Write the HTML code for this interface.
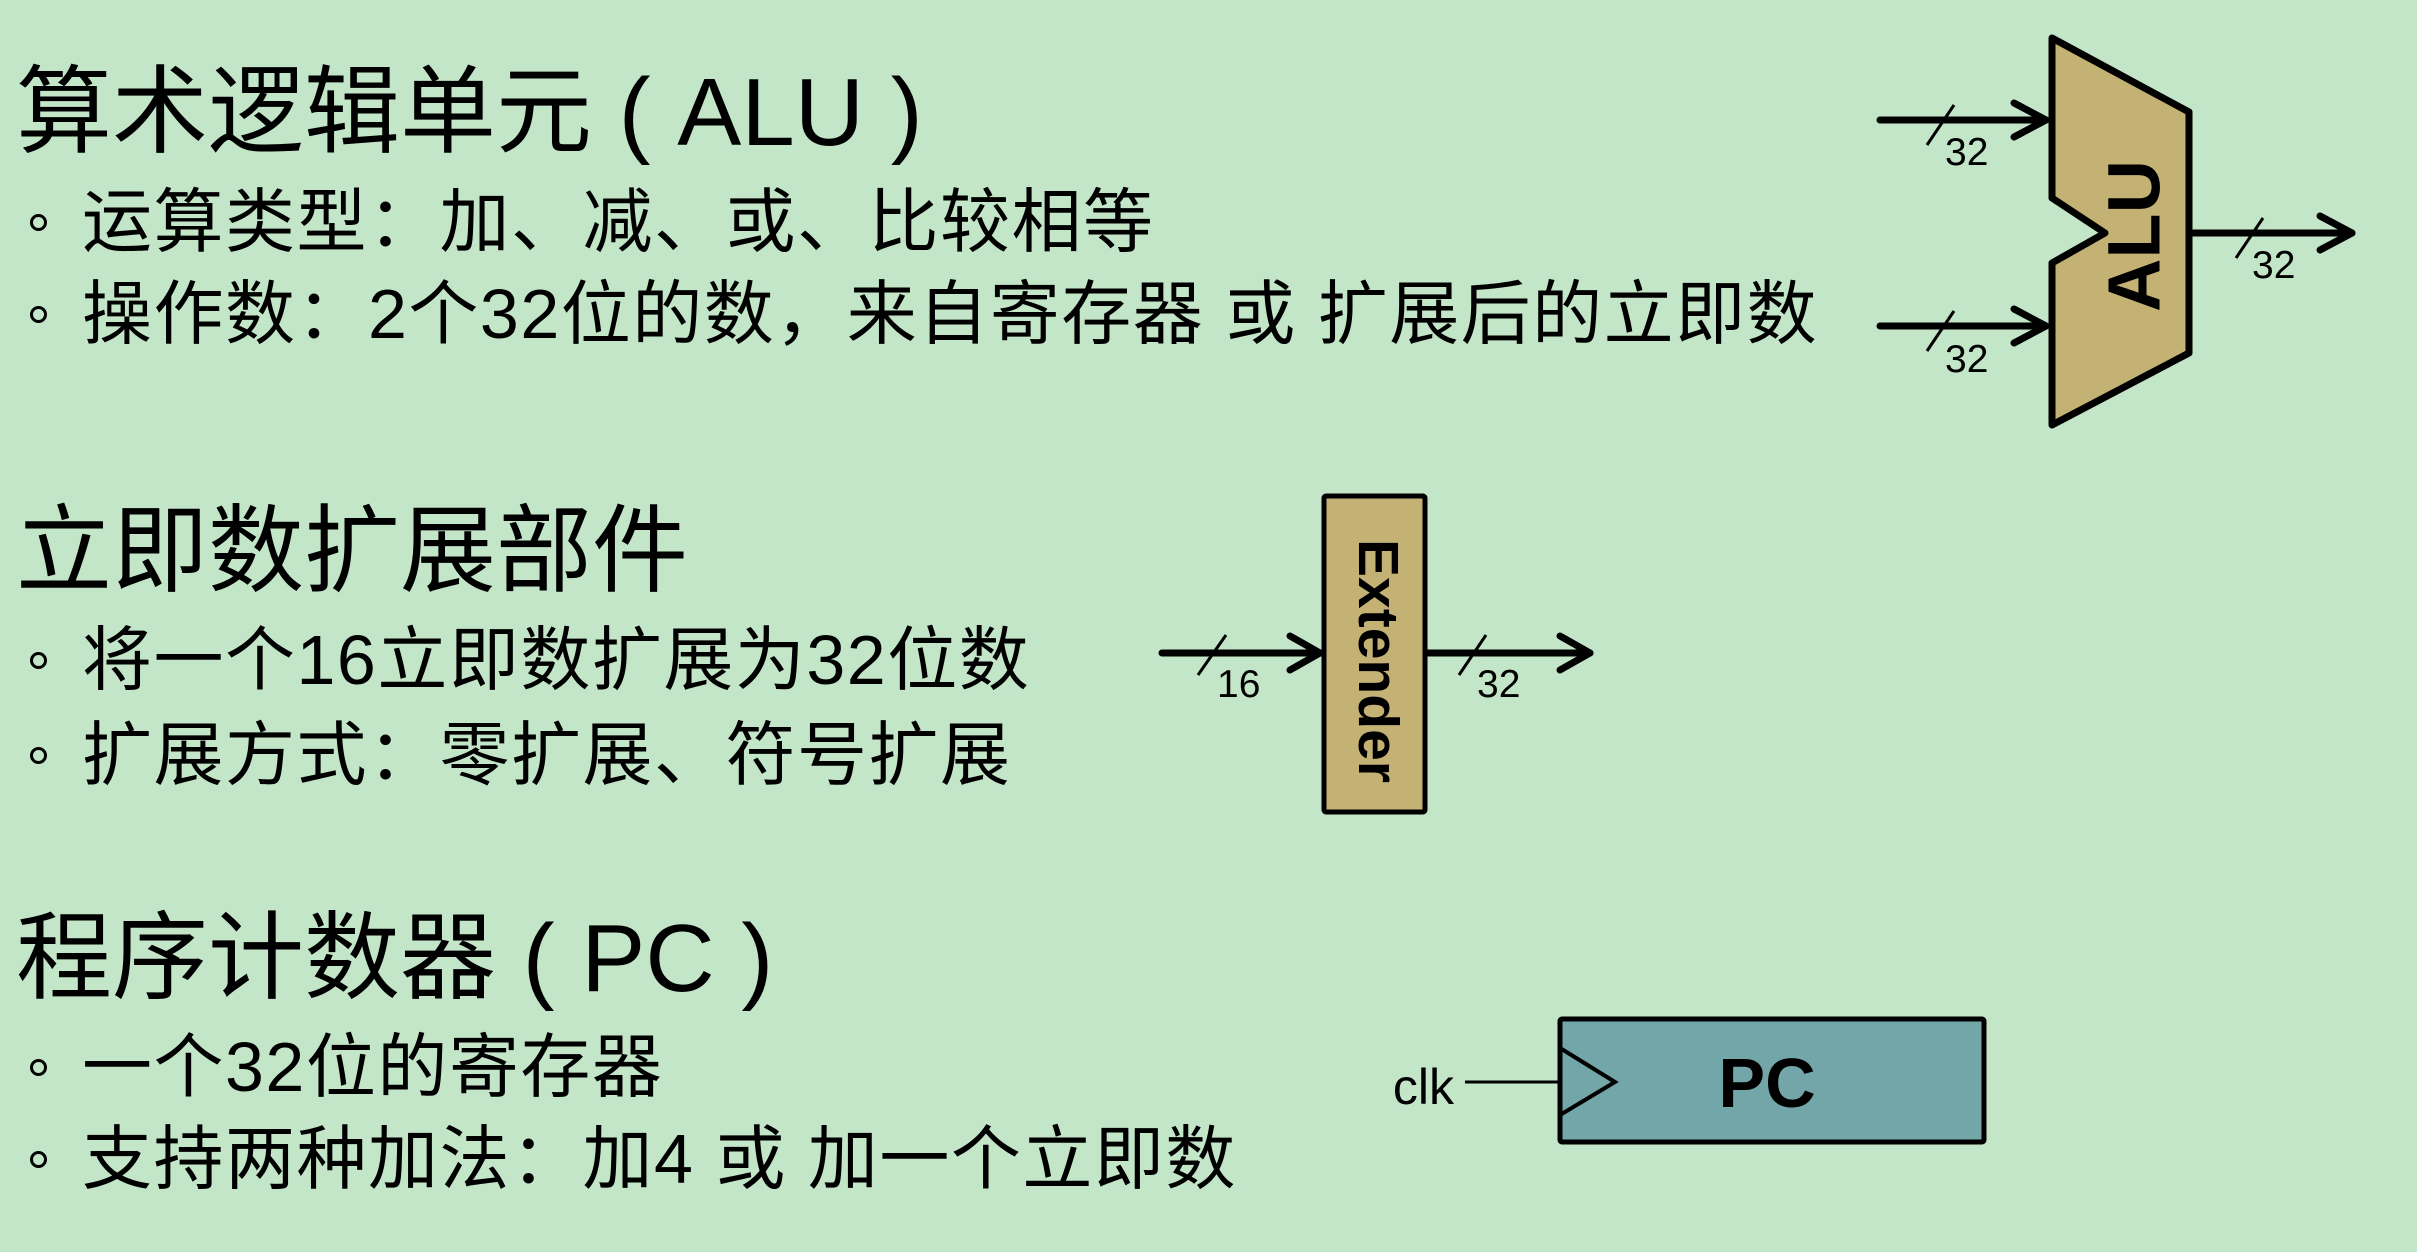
<!DOCTYPE html>
<html><head><meta charset="utf-8"><style>
html,body{margin:0;padding:0;}
body{width:2417px;height:1252px;background:#c3e6c8;position:relative;overflow:hidden;font-family:"Liberation Sans","Noto Sans CJK SC",sans-serif;color:#000;}
.t{position:absolute;white-space:nowrap;line-height:1;}
.h{font-size:96px;left:16px;}
.r{font-size:70px;left:82px;letter-spacing:1.5px;}
.b{position:absolute;left:30px;width:11px;height:11px;border:3px solid #000;border-radius:50%;}
svg{position:absolute;left:0;top:0;}
</style></head><body>
<div class="t h" style="top:65px">算术逻辑单元 ( ALU )</div>
<div class="b" style="top:214px"></div><div class="t r" style="top:187px">运算类型：加、减、或、比较相等</div>
<div class="b" style="top:306px"></div><div class="t r" style="top:279px">操作数：2个32位的数，来自寄存器 或 扩展后的立即数</div>

<div class="t h" style="top:504px">立即数扩展部件</div>
<div class="b" style="top:652px"></div><div class="t r" style="top:625px">将一个16立即数扩展为32位数</div>
<div class="b" style="top:747px"></div><div class="t r" style="top:720px">扩展方式：零扩展、符号扩展</div>

<div class="t h" style="top:911px">程序计数器 ( PC )</div>
<div class="b" style="top:1059px"></div><div class="t r" style="top:1032px">一个32位的寄存器</div>
<div class="b" style="top:1151px"></div><div class="t r" style="top:1124px">支持两种加法：加4 或 加一个立即数</div>

<svg width="2417" height="1252" viewBox="0 0 2417 1252" font-family="Liberation Sans, sans-serif">
<!-- ALU -->
<polygon points="2052,38 2189,112 2189,353 2052,425 2052,263 2105,233 2052,198" fill="#c4b275" stroke="#000" stroke-width="7" stroke-linejoin="round"/>
<text x="2140" y="236" font-size="74" font-weight="bold" text-anchor="middle" transform="rotate(-90 2140 236)" dominant-baseline="middle">ALU</text>
<g stroke="#000" stroke-width="7" fill="none" stroke-linecap="round" stroke-linejoin="round">
<line x1="1880" y1="120" x2="2046" y2="120"/><polyline points="2014,103 2046,120 2014,137"/>
<line x1="1880" y1="326" x2="2046" y2="326"/><polyline points="2014,309 2046,326 2014,343"/>
<line x1="2189" y1="233" x2="2352" y2="233"/><polyline points="2320,216 2352,233 2320,250"/>
<line x1="1162" y1="653" x2="1320" y2="653"/><polyline points="1290,636 1320,653 1290,670"/>
<line x1="1425" y1="653" x2="1590" y2="653"/><polyline points="1560,636 1590,653 1560,670"/>
</g>
<g stroke="#000" stroke-width="3">
<line x1="1927" y1="145" x2="1954" y2="105"/>
<line x1="1927" y1="351" x2="1954" y2="311"/>
<line x1="2236" y1="258" x2="2263" y2="218"/>
<line x1="1198" y1="675" x2="1226" y2="635"/>
<line x1="1459" y1="675" x2="1486" y2="635"/>
</g>
<g font-size="39">
<text x="1945" y="165">32</text>
<text x="1945" y="372">32</text>
<text x="2252" y="278">32</text>
<text x="1217" y="697">16</text>
<text x="1477" y="697">32</text>
</g>
<!-- Extender -->
<rect x="1324" y="496" width="101" height="316" fill="#c4b275" stroke="#000" stroke-width="5" rx="2"/>
<text x="1374" y="661" font-size="57" font-weight="bold" text-anchor="middle" dominant-baseline="middle" transform="rotate(90 1374 661)">Extender</text>
<!-- PC -->
<rect x="1560" y="1019" width="424" height="123" fill="#73a6a8" stroke="#000" stroke-width="5" rx="2"/>
<polyline points="1560,1048 1615,1082 1560,1115" fill="none" stroke="#000" stroke-width="4"/>
<line x1="1465" y1="1082" x2="1560" y2="1082" stroke="#000" stroke-width="3"/>
<text x="1454" y="1104" font-size="50" text-anchor="end">clk</text>
<text x="1767" y="1107" font-size="70" font-weight="bold" text-anchor="middle">PC</text>
</svg>
</body></html>
